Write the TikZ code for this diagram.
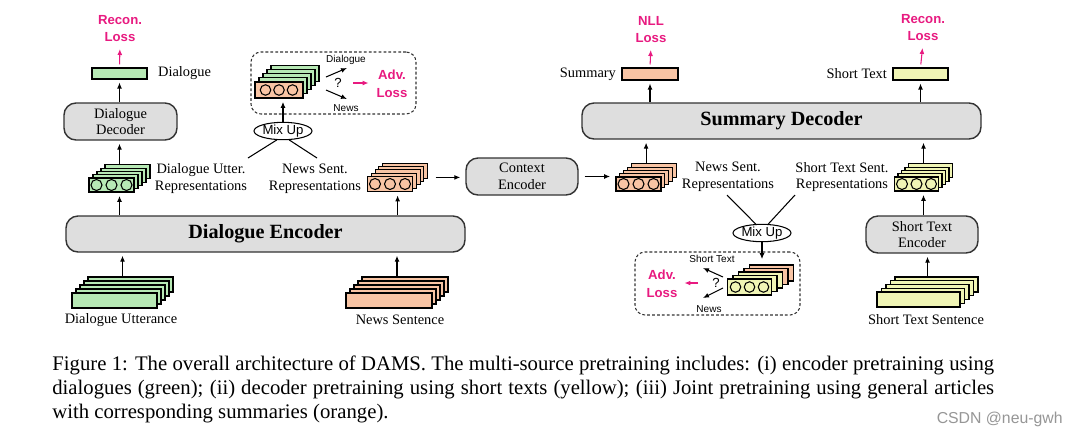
\documentclass[tikz,border=0pt]{standalone}
\usepackage{fontspec}
\setmainfont{Liberation Serif}
\newfontfamily\arialf{Liberation Sans}
\usetikzlibrary{arrows.meta,fit,shapes.geometric,calc}
\definecolor{lgreen}{RGB}{183,233,181}
\definecolor{lorange}{RGB}{248,196,164}
\definecolor{lyellow}{RGB}{240,245,181}
\definecolor{boxgray}{RGB}{222,222,222}
\definecolor{mag}{RGB}{232,26,128}
\definecolor{wmgray}{RGB}{150,150,150}
\newcommand\lab{\fontsize{8.2}{9.6}\selectfont}
\newcommand\bigb{\fontsize{11.5}{13}\selectfont\bfseries}
\newcommand\lossf{\arialf\bfseries\fontsize{7.5}{10}\selectfont}
\newcommand\tinyf{\arialf\fontsize{5.7}{7}\selectfont}
\newcommand\mixf{\arialf\fontsize{7.5}{9}\selectfont}
\newcommand\capf{\fontsize{11.8}{13}\selectfont}
\newcommand\stk[9]{%
 \foreach \kk/\lc in {#9}{\node[layer, fill=\lc, minimum width=#4*0.02cm, minimum height=#5*0.02cm] (#1-\kk) at ({#2+\kk*#6},{#3-\kk*#7}) {};}
 \node[layer, fill=#8, minimum width=#4*0.02cm, minimum height=#5*0.02cm] (#1) at (#2,#3) {};
 \node[fit=(#1)(#1-4), inner sep=0pt] (#1s) {};
}
\newcommand\circs[3]{%
 \foreach \ii in {-1,0,1}{\node[circle, draw=black, line width=0.6pt, inner sep=0pt, minimum size=#3*0.02cm] at ($(#1)+(\ii*#2,0)$) {};}
}
\tikzset{
 layer/.style={draw=black, line width=0.6pt, inner sep=0pt},
 mbox/.style={draw=black!80, fill=boxgray, line width=0.8pt, rounded corners=0.24cm, inner sep=0pt, align=center, font=\lab},
 lbl/.style={font=\lab, align=center, inner sep=1pt},
 lossl/.style={font=\lossf, text=mag, align=center, inner sep=1pt},
 tinyl/.style={font=\tinyf, inner sep=0.5pt},
 qf/.style={font=\arialf\fontsize{7.5}{9}\selectfont, inner sep=0.5pt},
 mixe/.style={ellipse, draw=black, line width=0.6pt, inner sep=0pt, font=\mixf, minimum width=1.12cm, minimum height=0.32cm},
 dbox/.style={draw=black!80, line width=0.6pt, dash pattern=on 1.6pt off 1.2pt, rounded corners=0.2cm, inner sep=0pt},
 arr/.style={-{Latex[length=3.4pt,width=2.8pt]}, line width=0.6pt, shorten >=0.06cm},
 marr/.style={arr, draw=mag},
 thinl/.style={line width=0.6pt},
}
\begin{document}
\begin{tikzpicture}[x=0.02cm,y=-0.02cm]
\fill[white] (0,0) rectangle (1075,441);
\useasboundingbox (0,0) rectangle (1075,441);

% main boxes
\node[mbox, minimum width=113*0.02cm, minimum height=37*0.02cm] (ddec) at (120.5,121.5) {Dialogue\\Decoder};
\node[mbox, font=\bigb, minimum width=399*0.02cm, minimum height=36*0.02cm] (denc) at (265.5,234) {Dialogue Encoder};
\node[mbox, minimum width=112*0.02cm, minimum height=37*0.02cm] (cenc) at (522,176.5) {Context\\Encoder};
\node[mbox, font=\bigb, minimum width=399*0.02cm, minimum height=36*0.02cm] (sdec) at (781.5,121) {Summary Decoder};
\node[mbox, minimum width=112*0.02cm, minimum height=37*0.02cm] (stenc) at (922,234.5) {Short Text\\Encoder};

% outputs
\node[layer, fill=lgreen, minimum width=55*0.02cm, minimum height=11*0.02cm] (gout) at (119.5,73.5) {};
\node[layer, fill=lorange, minimum width=56*0.02cm, minimum height=12*0.02cm] (sout) at (650,74) {};
\node[layer, fill=lyellow, minimum width=55*0.02cm, minimum height=12*0.02cm] (stout) at (920.5,74) {};
\node[lbl, anchor=west] (goutl) at (156,73.5) {Dialogue};
\node[lbl, anchor=east] (soutl) at (618,74) {Summary};
\node[lbl, anchor=east] (stoutl) at (889,74) {Short Text};

% losses
\node[lossl] (rl1) at (120,28.5) {Recon.\\Loss};
\node[lossl] (nll) at (651,29.5) {NLL\\Loss};
\node[lossl] (rl2) at (923,27.5) {Recon.\\Loss};

% dashed boxes
\node[dbox, minimum width=165*0.02cm, minimum height=62*0.02cm] (db1) at (333.5,83) {};
\node[dbox, minimum width=165*0.02cm, minimum height=63*0.02cm] (db2) at (717.5,283.5) {};

% stacks
\stk{grep}{111.5}{185}{45}{14}{4}{3.3}{lgreen}{4/lgreen,3/lgreen,2/lgreen,1/lgreen}
\circs{grep}{15}{11}
\stk{nrepa}{390}{184}{45}{15}{3.8}{3.3}{lorange}{4/lorange,3/lorange,2/lorange,1/lorange}
\circs{nrepa}{15}{11}
\stk{nrepb}{638.5}{184}{45}{14}{3.8}{3.3}{lorange}{4/lorange,3/lorange,2/lorange,1/lorange}
\circs{nrepb}{15}{11}
\stk{yrep}{916.5}{184}{44}{14}{3.5}{3.3}{lyellow}{4/lyellow,3/lyellow,2/lyellow,1/lyellow}
\circs{yrep}{14.5}{11}
\stk{mixa}{279}{90}{48}{16}{4}{4.2}{lorange}{4/lgreen,3/lgreen,2/lgreen,1/lgreen}
\circs{mixa}{13.5}{10.5}
\stk{mixb}{749.5}{287}{44}{16}{5.5}{3.5}{lyellow}{4/lorange,3/lorange,2/lyellow,1/lyellow}
\circs{mixb}{14}{10.5}
\stk{du}{114.5}{300.5}{85}{15}{4}{4}{lgreen}{4/lgreen,3/lgreen,2/lgreen,1/lgreen}
\stk{ns}{389}{300.5}{86}{15}{4}{4}{lorange}{4/lorange,3/lorange,2/lorange,1/lorange}
\stk{sts}{918.5}{299.5}{83}{15}{4.5}{3.75}{lyellow}{4/lyellow,3/lyellow,2/lyellow,1/lyellow}

% labels
\node[lbl] (gl) at (201,178.5) {Dialogue Utter.\\Representations};
\node[lbl] (nla) at (315,178.5) {News Sent.\\Representations};
\node[lbl] (nlb) at (728,177) {News Sent.\\Representations};
\node[lbl] (yl) at (842,177) {Short Text Sent.\\Representations};
\node[lbl] (dul) at (121,320) {Dialogue Utterance};
\node[lbl] (nsl) at (400,320) {News Sentence};
\node[lbl] (stsl) at (926,320) {Short Text Sentence};

% mix up
\node[mixe] (mix1) at (283,131) {Mix Up};
\node[mixe] (mix2) at (762,233) {Mix Up};
\coordinate (m1a) at (248,158);
\coordinate (m1b) at (317,158);
\coordinate (m2a) at (727,195);
\coordinate (m2b) at (795,195);
\draw[thinl] (mix1.235) -- (m1a);
\draw[thinl] (mix1.305) -- (m1b);
\draw[thinl] (mix2.125) -- (m2a);
\draw[thinl] (mix2.55) -- (m2b);
\draw[arr] (mix1.north) -- (mix1.north |- mixas.south);
\draw[arr, shorten >=0.1cm] (mix2.south) -- (mix2.south |- mixbs.north);

% inside left dashed box
\node[tinyl] (d1) at (346,60) {Dialogue};
\node[tinyl] (n1) at (346,108) {News};
\node[qf] (q1) at (338,83) {?};
\coordinate (a1s) at (326,77); \coordinate (a1e) at (347,68);
\coordinate (a2s) at (326,90); \coordinate (a2e) at (347,99);
\draw[arr, shorten >=0pt] (a1s) -- (a1e);
\draw[arr, shorten >=0pt] (a2s) -- (a2e);
\node[lossl] (adv1) at (392,83.5) {Adv.\\Loss};
\coordinate (ms1) at (353,83);
\draw[marr, shorten >=0.12cm] (ms1) -- (ms1 -| adv1.west);

% inside right dashed box
\node[tinyl] (st2) at (712,259) {Short Text};
\node[tinyl] (n2) at (709,309) {News};
\node[qf] (q2) at (716,283) {?};
\coordinate (b1s) at (723,277); \coordinate (b1e) at (703,268);
\coordinate (b2s) at (723,288); \coordinate (b2e) at (703,298);
\draw[arr, shorten >=0pt] (b1s) -- (b1e);
\draw[arr, shorten >=0pt] (b2s) -- (b2e);
\node[lossl] (adv2) at (662,283.5) {Adv.\\Loss};
\coordinate (ms2) at (698,283);
\draw[marr, shorten >=0.1cm] (ms2) -- (ms2 -| adv2.east);

% main arrows
\draw[arr] (denc.north -| greps.south) -- (greps.south);
\draw[arr] (greps.north) -- (greps.north |- ddec.south);
\draw[arr] (ddec.north -| gout) -- (gout.south);
\draw[marr, shorten <=0.06cm, shorten >=0.1cm] (gout.north) -- (rl1.south);
\draw[arr] (dus.north) -- (dus.north |- denc.south);
\draw[arr] (nss.north) -- (nss.north |- denc.south);
\draw[arr] (denc.north -| nrepas.south) -- (nrepas.south);
\draw[arr, shorten >=0.1cm] ([xshift=0.14cm]nrepas.east) -- (nrepas.east -| cenc.west);
\draw[arr, shorten >=0.1cm] ([xshift=0.12cm]cenc.east) -- (cenc.east -| nrepbs.west);
\draw[arr] (nrepbs.north) -- (nrepbs.north |- sdec.south);
\draw[arr] (sdec.north -| sout) -- (sout.south);
\draw[marr, shorten <=0.06cm, shorten >=0.1cm] (sout.north) -- (nll.south);
\draw[arr] (sdec.north -| stout) -- (stout.south);
\draw[marr, shorten <=0.06cm, shorten >=0.1cm] (stout.north) -- (rl2.south);
\draw[arr] (yreps.north) -- (yreps.north |- sdec.south);
\draw[arr] (stenc.north -| yreps.south) -- (yreps.south);
\draw[arr] (stss.north) -- (stss.north |- stenc.south);

% caption
\node[font=\capf, anchor=base west, inner sep=0pt] (cap1) at (52,370) {\hbox to 18.84cm{Figure 1: The overall architecture of DAMS. The multi-source pretraining includes: (i) encoder pretraining using}};
\node[font=\capf, anchor=base west, inner sep=0pt] (cap2) at (52,394) {\hbox to 18.84cm{dialogues (green); (ii) decoder pretraining using short texts (yellow); (iii) Joint pretraining using general articles}};
\node[font=\capf, anchor=base west, inner sep=0pt] (cap3) at (52,418) {with corresponding summaries (orange).};
\node[font=\arialf\fontsize{9}{10}\selectfont, text=wmgray, anchor=east, inner sep=0pt] (wm) at (1063,419) {CSDN @neu-gwh};
\end{tikzpicture}
\end{document}
